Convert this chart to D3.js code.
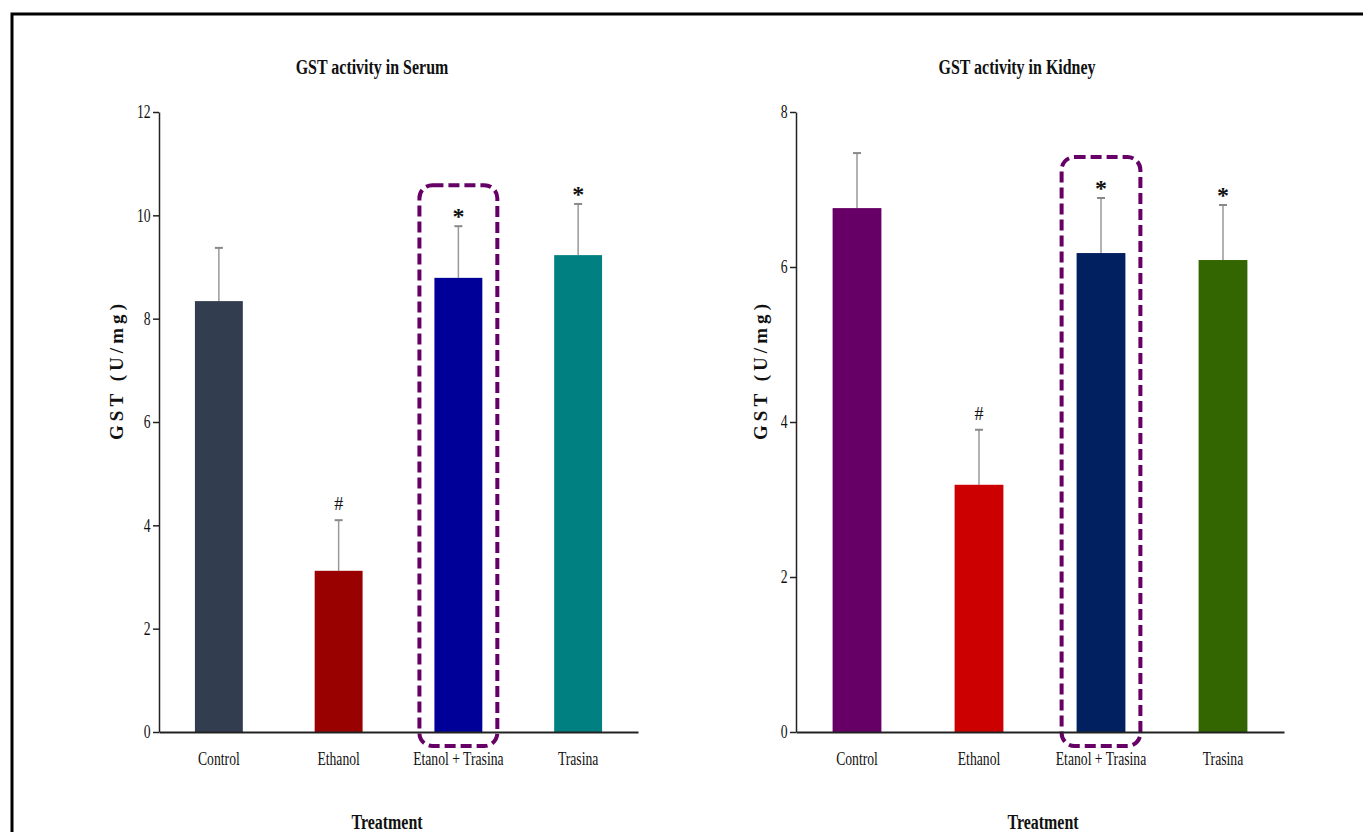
<!DOCTYPE html>
<html>
<head>
<meta charset="utf-8">
<script src="https://cdn.jsdelivr.net/npm/d3@7"></script>
<style>
  body { margin: 0; background: #fff; }
  svg { display: block; }
  text { font-family: "Liberation Serif", "Times New Roman", serif; fill: #111; }
</style>
</head>
<body>
<svg id="canvas"></svg>
<script>
let width = 1363
let height = 832

// data
let categories = ['Control', 'Ethanol', 'Etanol + Trasina', 'Trasina']

let serumMeans = [8.34, 3.12, 8.79, 9.23]
let serumErrors = [1.03, 0.98, 1.0, 0.99]
let serumMarks = ['', '#', '*', '*']
let serumColors = ['#333d50', '#990000', '#000099', '#008080']
let serumTicks = [0, 2, 4, 6, 8, 10, 12]

let kidneyMeans = [6.76, 3.19, 6.18, 6.09]
let kidneyErrors = [0.71, 0.71, 0.71, 0.71]
let kidneyMarks = ['', '#', '*', '*']
let kidneyColors = ['#660066', '#cc0000', '#002060', '#336600']
let kidneyTicks = [0, 2, 4, 6, 8]

let highlighted = 'Etanol + Trasina'

let canvas = d3.select('#canvas')
canvas.attr('width', width).attr('height', height)

// frame round the figure
canvas.append('path')
    .attr('d', 'M12,' + height + ' V14 H' + width)
    .attr('fill', 'none')
    .attr('stroke', '#000')
    .attr('stroke-width', 3)

// the original type is a narrow Times, squeeze it a bit
let condensed = 'scale(0.76,1)'

let drawPanel = (opts) => {
    let xScale = d3.scaleBand()
        .domain(categories)
        .range([opts.left, opts.right])
        .paddingInner(0.6)
        .paddingOuter(0.3)
    let yScale = d3.scaleLinear()
        .domain([0, opts.max])
        .range([732, 112])

    let g = canvas.append('g')

    let values = categories.map((c, i) => ({
        name: c,
        mean: opts.means[i],
        err: opts.errors[i],
        mark: opts.marks[i],
        color: opts.colors[i]
    }))

    // highlight box
    let hi = values.find(d => d.name === highlighted)
    g.append('rect')
        .attr('x', xScale(hi.name) - 15)
        .attr('y', yScale(hi.mean + hi.err) - 41)
        .attr('width', xScale.bandwidth() + 30)
        .attr('height', 732 + 14 - (yScale(hi.mean + hi.err) - 41))
        .attr('rx', 13)
        .attr('fill', 'none')
        .attr('stroke', '#660066')
        .attr('stroke-width', 4)
        .attr('stroke-dasharray', '11,5')

    // error bars
    g.selectAll('.err')
        .data(values)
        .enter()
        .append('line')
        .attr('x1', d => xScale(d.name) + xScale.bandwidth() / 2)
        .attr('x2', d => xScale(d.name) + xScale.bandwidth() / 2)
        .attr('y1', d => yScale(d.mean))
        .attr('y2', d => yScale(d.mean + d.err))
        .attr('stroke', '#999')
        .attr('stroke-width', 1.5)
    g.selectAll('.cap')
        .data(values)
        .enter()
        .append('line')
        .attr('x1', d => xScale(d.name) + xScale.bandwidth() / 2 - 4)
        .attr('x2', d => xScale(d.name) + xScale.bandwidth() / 2 + 4)
        .attr('y1', d => yScale(d.mean + d.err))
        .attr('y2', d => yScale(d.mean + d.err))
        .attr('stroke', '#888')
        .attr('stroke-width', 2)

    // bars
    g.selectAll('.bar')
        .data(values)
        .enter()
        .append('rect')
        .attr('x', d => xScale(d.name))
        .attr('y', d => yScale(d.mean))
        .attr('width', xScale.bandwidth())
        .attr('height', d => yScale(0) - yScale(d.mean))
        .attr('fill', d => d.color)

    // significance marks
    g.selectAll('.mark')
        .data(values.filter(d => d.mark))
        .enter()
        .append('text')
        .attr('x', d => xScale(d.name) + xScale.bandwidth() / 2)
        .attr('y', d => yScale(d.mean + d.err) - (d.mark === '#' ? 10 : 2))
        .attr('text-anchor', 'middle')
        .attr('font-size', d => d.mark === '#' ? 18 : 24)
        .attr('font-weight', d => d.mark === '#' ? 'normal' : 'bold')
        .text(d => d.mark)

    // axes
    let yAxis = d3.axisLeft(yScale)
        .tickValues(opts.ticks)
        .tickSize(6)
        .tickSizeOuter(0)
        .tickPadding(5)
    let yG = g.append('g')
        .attr('transform', 'translate(' + opts.left + ',0)')
        .call(yAxis)
    yG.select('.domain').attr('stroke', '#222').attr('stroke-width', 1.5)
    yG.selectAll('.tick line').attr('stroke', '#222').attr('stroke-width', 1.5)
    yG.selectAll('.tick text')
        .attr('font-size', 18)
        .attr('font-family', '"Liberation Serif", serif')
        .attr('fill', '#111')
        .attr('transform', condensed)

    let xAxis = d3.axisBottom(xScale)
        .tickSize(0)
        .tickSizeOuter(0)
        .tickPadding(20)
    let xG = g.append('g')
        .attr('transform', 'translate(0,732)')
        .call(xAxis)
    xG.select('.domain').attr('stroke', '#222').attr('stroke-width', 2)
    xG.selectAll('.tick text')
        .attr('font-size', 18)
        .attr('font-family', '"Liberation Serif", serif')
        .attr('fill', '#111')
        .attr('transform', condensed)

    // titles
    g.append('text')
        .attr('transform', 'translate(' + opts.titleX + ',74) ' + condensed)
        .attr('text-anchor', 'middle')
        .attr('font-size', 21)
        .attr('font-weight', 'bold')
        .text(opts.title)

    g.append('text')
        .attr('transform', 'translate(' + opts.labelX + ',372) rotate(-90)')
        .attr('text-anchor', 'middle')
        .attr('font-size', 19)
        .attr('font-weight', 'bold')
        .attr('textLength', 136)
        .attr('lengthAdjust', 'spacing')
        .text('GST (U/mg)')

    g.append('text')
        .attr('transform', 'translate(' + opts.treatX + ',829) ' + condensed)
        .attr('text-anchor', 'middle')
        .attr('font-size', 21)
        .attr('font-weight', 'bold')
        .text('Treatment')
}

drawPanel({
    left: 159, right: 638, max: 12,
    means: serumMeans, errors: serumErrors, marks: serumMarks,
    colors: serumColors, ticks: serumTicks,
    title: 'GST activity in Serum', titleX: 372, labelX: 123, treatX: 387
})

drawPanel({
    left: 796, right: 1284, max: 8,
    means: kidneyMeans, errors: kidneyErrors, marks: kidneyMarks,
    colors: kidneyColors, ticks: kidneyTicks,
    title: 'GST activity in Kidney', titleX: 1017, labelX: 767, treatX: 1043
})
</script>
</body>
</html>
